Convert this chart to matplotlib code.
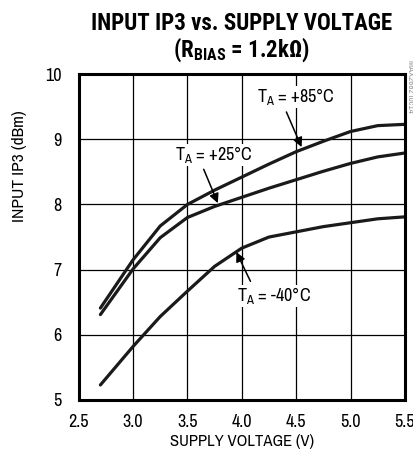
import matplotlib
matplotlib.use("Agg")
import matplotlib.pyplot as plt

body = ['Archivo Narrow', 'Liberation Sans Narrow', 'DejaVu Sans']
head = ['Roboto Condensed', 'Archivo Narrow', 'Liberation Sans Narrow', 'DejaVu Sans']
plt.rcParams['font.family'] = body
plt.rcParams['mathtext.fontset'] = 'custom'
plt.rcParams['mathtext.rm'] = 'Archivo Narrow'
plt.rcParams['mathtext.bf'] = 'Roboto Condensed:black'

# supply voltage (V)
voltage = [2.7, 3.0, 3.25, 3.5, 3.75, 4.0, 4.25, 4.5, 4.75, 5.0, 5.25, 5.5]
# input IP3 (dBm) for each ambient temperature
ip3_85 = [6.41, 7.15, 7.67, 8.0, 8.22, 8.42, 8.62, 8.81, 8.97, 9.12, 9.21, 9.23]
ip3_25 = [6.31, 7.01, 7.49, 7.8, 7.97, 8.11, 8.25, 8.38, 8.51, 8.63, 8.73, 8.79]
ip3_m40 = [5.23, 5.82, 6.28, 6.67, 7.05, 7.33, 7.5, 7.58, 7.66, 7.72, 7.78, 7.81]

xticks = [2.5, 3.0, 3.5, 4.0, 4.5, 5.0, 5.5]
yticks = [5, 6, 7, 8, 9, 10]

# curve labels: text, text position, arrow start, arrow tip
labels = [
    (r"T$_\mathrm{A}$ = +85°C", (4.5, 9.65), (4.41, 9.42), (4.55, 8.88)),
    (r"T$_\mathrm{A}$ = +25°C", (3.745, 8.76), (3.65, 8.54), (3.78, 8.02)),
    (r"T$_\mathrm{A}$ = -40°C", (4.3, 6.6), (4.08, 6.82), (3.95, 7.27)),
]

fig = plt.figure(figsize=(4.14, 4.55), dpi=100)
ax = fig.add_axes([0.19, 0.121, 0.788, 0.716])

for y in (ip3_85, ip3_25, ip3_m40):
    ax.plot(voltage, y, color="#1a1a1a", lw=2.3, solid_capstyle="round",
            solid_joinstyle="round")

ax.set_xlim(2.5, 5.5)
ax.set_ylim(5, 10)
ax.set_xticks(xticks)
ax.set_xticklabels([f"{v:.1f}" for v in xticks])
ax.set_yticks(yticks)
ax.tick_params(length=0, labelsize=13)
ax.tick_params(axis="x", pad=10)
ax.tick_params(axis="y", pad=12)
ax.grid(True, color="black", lw=0.9)
for s in ax.spines.values():
    s.set_linewidth(2.2)

ax.set_xlabel("SUPPLY VOLTAGE (V)", fontsize=12, labelpad=3)
ax.set_ylabel("INPUT IP3 (dBm)", fontsize=12.5)
ax.yaxis.set_label_coords(-0.158, 0.718)

fig.text(0.583, 0.949, "INPUT IP3 vs. SUPPLY VOLTAGE", ha="center", va="center",
         fontsize=16.5, fontweight="black", family=head)
fig.text(0.583, 0.89, r"(R$_{\mathbf{BIAS}}$ = 1.2kΩ)", ha="center", va="center",
         fontsize=16.5, fontweight="black", family=head)

arrow = dict(arrowstyle="-|>", color="black", lw=1.1, mutation_scale=14,
             shrinkA=0, shrinkB=0)
for txt, pos, start, tip in labels:
    ax.text(pos[0], pos[1], txt, ha="center", va="center", fontsize=13,
            bbox=dict(fc="white", ec="none", pad=0.3))
    ax.annotate("", xy=tip, xytext=start, arrowprops=arrow)

fig.text(0.992, 0.81, "MAX2682 toc14", rotation=270, ha="center", va="center",
         fontsize=6.5, color="#999999")

fig.savefig("out.png", dpi=100)
